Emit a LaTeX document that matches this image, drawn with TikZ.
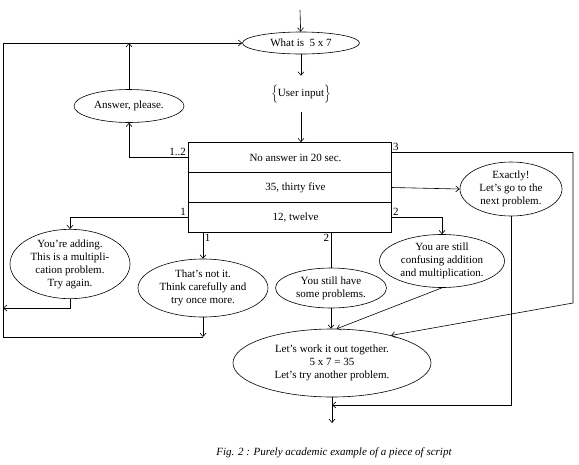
\documentclass[tikz,border=0pt]{standalone}
\usepackage{fontspec}
\setmainfont{Liberation Serif}
\usepackage{tikz}
\usetikzlibrary{arrows.meta,shapes.geometric}

\tikzset{
  bubble/.style={draw, ellipse, inner sep=0pt, align=center, font=\fontsize{11}{13}\selectfont},
  rowbox/.style={draw, minimum width=203pt, minimum height=30pt, font=\fontsize{11}{13}\selectfont},
  lbl/.style={inner sep=1.5pt, font=\fontsize{11}{13}\selectfont}
}

\begin{document}
\begin{tikzpicture}[>={Straight Barb[length=3.5pt,width=6pt]}, x=1pt, y=-1pt, line width=0.6pt]
\useasboundingbox (0,0) rectangle (579,464);

% question and input
\coordinate (start) at (300,10);
\node[bubble, minimum width=117pt, minimum height=22pt] (what) at (301,43) {What is \ 5 x 7};
\node[font=\fontsize{11}{13}\selectfont, inner ysep=9pt] (input) at (301,94) {$\Big\{$User input$\Big\}$};
\node[bubble, minimum width=110pt, minimum height=33pt] (answer) at (129,106) {Answer, please.};

% answer table
\node[rowbox] (r1) at (289.5,157.5) {\hspace*{12pt}No answer in 20 sec.};
\node[rowbox] (r2) at (289.5,187.5) {\hspace*{12pt}35, thirty five};
\node[rowbox] (r3) at (289.5,217.5) {\hspace*{12pt}12, twelve};

% replies
\node[bubble, minimum width=102pt, minimum height=54pt] (exactly) at (511,189) {Exactly!\\ Let’s go to the\\ next problem.};
\node[bubble, minimum width=120pt, minimum height=62pt] (adding) at (70,264) {You’re adding.\\ This is a multipli-\\ cation problem.\\ Try again.};
\node[bubble, minimum width=130pt, minimum height=58pt] (notit) at (203,288) {That’s not it.\\ Think carefully and\\ try once more.};
\node[bubble, minimum width=111pt, minimum height=40pt] (problems) at (331,288) {You still have\\ some problems.};
\node[bubble, minimum width=125pt, minimum height=53pt] (confusing) at (442,261) {You are still\\ confusing addition\\ and multiplication.};
\node[bubble, minimum width=198pt, minimum height=68pt] (together) at (332,363) {Let’s work it out together.\\ 5 x 7 = 35\\ Let’s try another problem.};

\node[font=\fontsize{11}{13}\itshape] (caption) at (334,453) {Fig. 2 : Purely academic example of a piece of script};

% loop points
\coordinate (loop) at (3,337);
\coordinate (back) at (3,308);
\coordinate (corner) at (573,303);
\coordinate (join) at (332,405);
\coordinate (exit) at (332,423);

\draw[->] (start) -- (what);
\draw[->] (what) -- (input);
\draw[->] (input.south) -- (input.south |- r1.north);
\draw[->] (r1.west) node[lbl, above left] (l12) {1..2} -| (answer.south);
\draw[->] (answer.north) -- (answer.north |- what.west);
\draw[->] (notit |- loop) -- (loop) |- (what.west);
\draw[->] (notit.south) -- (notit |- loop);
\draw[->] (adding.south) |- (back);
\draw[->] (r3.west) node[lbl, above left] (l1a) {1} -| (adding.north);
\draw[->] (r3.south -| notit) node[lbl, below right] (l1b) {1} -- (notit.north);
\draw (r3.south -| problems) node[lbl, below left] (l2a) {2} -- (problems.north);
\draw[->] (r3.east) node[lbl, above right] (l2b) {2} -| (confusing.north);
\draw[->] (r2.east) -- (exactly.west);
\draw[->] ([yshift=5pt]r1.east) node[lbl, above right] (l3) {3} -| (corner) -- (together.25);
\draw[->] (confusing.south) -- (together.82);
\draw[->] (problems.south) -- (problems |- together.north);
\draw[->] (exactly.south) |- (join);
\draw[->] (together.south) -- (exit);
\end{tikzpicture}
\end{document}
